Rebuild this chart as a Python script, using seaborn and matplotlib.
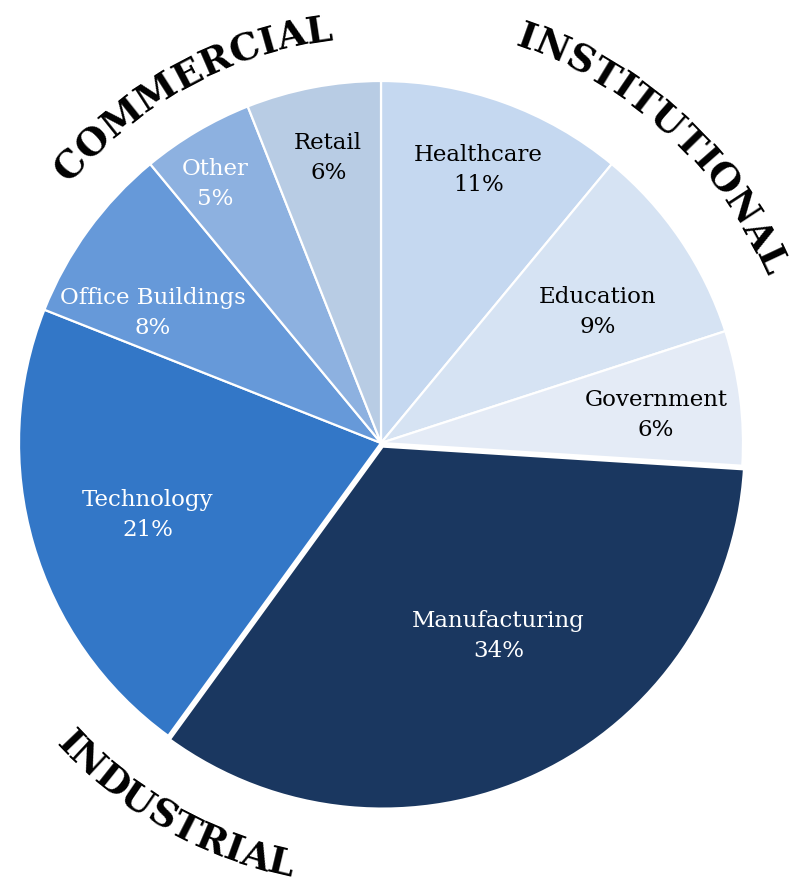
import math
import matplotlib
matplotlib.use("Agg")
import matplotlib.pyplot as plt
import seaborn as sns
from matplotlib.font_manager import FontProperties
from matplotlib.textpath import TextToPath

# Sector shares, clockwise from 12 o'clock
sectors = ["Healthcare", "Education", "Government", "Manufacturing",
           "Technology", "Office Buildings", "Other", "Retail"]
shares = [11, 9, 6, 34, 21, 8, 5, 6]
sector_colors = ["#c5d8f0", "#d6e3f3", "#e4ebf6", "#1a3760",
                 "#3377c7", "#6699d9", "#8db1e0", "#b8cce4"]
label_colors = ["black", "black", "black", "white",
                "white", "white", "white", "black"]

# Market groups written around the rim
groups = ["COMMERCIAL", "INSTITUTIONAL", "INDUSTRIAL"]

# Layout settings (style only)
group_mid_angle = [118.5, 47.4, 240.5]
group_radius = [1.120, 1.160, 1.225]
group_clockwise = [True, True, False]
label_radius = [0.80, 0.70, 0.764, 0.613, 0.674, 0.725, 0.85, 0.80]
label_nudge = [0.2, -3.1, -1.4, 6.3, 1.0, 6.3, 2.1, -0.3]
explode = [0, 0, 0, 0.011, 0, 0, 0, 0]

sns.set_theme(style="white")
plt.rcParams["font.family"] = ["DejaVu Serif"]

W, H, DPI = 798, 886, 100
CX, CY, R = 381.0, 443.0, 362.0  # pixel centre and radius

fig = plt.figure(figsize=(W / DPI, H / DPI), dpi=DPI)
ax = fig.add_axes([0, 0, 1, 1])

wedges, _ = ax.pie(
    shares, colors=sector_colors, startangle=90, counterclock=False,
    explode=explode, radius=1.0, center=(0, 0),
    wedgeprops=dict(edgecolor="white", linewidth=1.6),
)
ax.set_xlim(-CX / R, (W - CX) / R)
ax.set_ylim(-CY / R, (H - CY) / R)
ax.set_aspect("equal", adjustable="box")
ax.axis("off")

# Sector labels
for w, name, val, tc, rf, nd in zip(wedges, sectors, shares, label_colors,
                                    label_radius, label_nudge):
    mid = math.radians(0.5 * (w.theta1 + w.theta2) + nd)
    cx, cy = w.center
    ax.text(cx + rf * math.cos(mid), cy + rf * math.sin(mid),
            f"{name}\n{val}%", ha="center", va="center", color=tc,
            fontsize=16.5, linespacing=1.45, family="DejaVu Serif")

# Curved group names
gfont = FontProperties(family="DejaVu Serif", weight="bold", size=27)
t2p = TextToPath()


def char_width(ch):
    w, _, _ = t2p.get_text_width_height_descent(ch, gfont, ismath=False)
    return w * DPI / 72.0 / R  # in data units


def arc_text(text, mid_deg, radius, clockwise):
    widths = [char_width(c) for c in text]
    total = sum(widths) / radius
    mid = math.radians(mid_deg)
    pos = 0.0
    for ch, cw in zip(text, widths):
        off = (pos + cw / 2) / radius
        if clockwise:
            th = mid + total / 2 - off
            rot = math.degrees(th) - 90
        else:
            th = mid - total / 2 + off
            rot = math.degrees(th) + 90
        ax.text(radius * math.cos(th), radius * math.sin(th), ch,
                fontproperties=gfont, rotation=rot, rotation_mode="anchor",
                ha="center", va="baseline", color="black")
        pos += cw


for g, m, r, cw in zip(groups, group_mid_angle, group_radius, group_clockwise):
    arc_text(g, m, r, cw)

fig.savefig("out.png", dpi=DPI, facecolor="white")
